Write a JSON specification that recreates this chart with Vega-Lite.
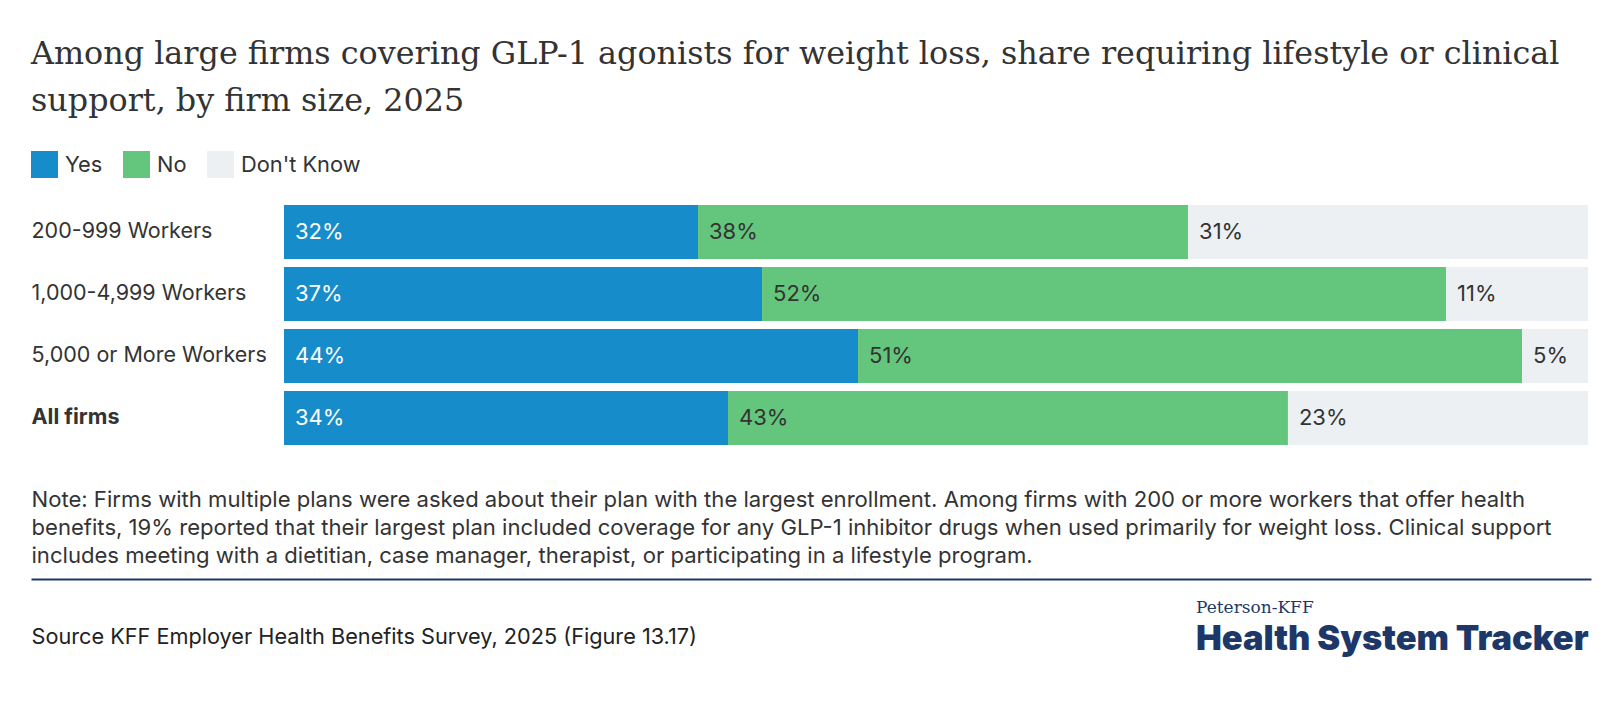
{
  "$schema": "https://vega.github.io/schema/vega-lite/v6.json",
  "background": "white",
  "padding": {"left": 31, "top": 39, "right": 29, "bottom": 40},
  "config": {"view": {"stroke": null}, "font": "Inter", "axis": {"grid": false}},
  "title": {
    "text": ["Among large firms covering GLP-1 agonists for weight loss, share requiring lifestyle or clinical", "support, by firm size, 2025"],
    "anchor": "start",
    "frame": "bounds",
    "font": "DejaVu Serif",
    "fontSize": 31.8,
    "fontWeight": "normal",
    "color": "#333333",
    "lineHeight": 47,
    "offset": 33
  },
  "data": {
    "values": [
      {"size": "200-999 Workers", "response": "Yes", "value": 0.3175},
      {"size": "200-999 Workers", "response": "No", "value": 0.3758},
      {"size": "200-999 Workers", "response": "Don't Know", "value": 0.3067},
      {"size": "1,000-4,999 Workers", "response": "Yes", "value": 0.3666},
      {"size": "1,000-4,999 Workers", "response": "No", "value": 0.5245},
      {"size": "1,000-4,999 Workers", "response": "Don't Know", "value": 0.1089},
      {"size": "5,000 or More Workers", "response": "Yes", "value": 0.4402},
      {"size": "5,000 or More Workers", "response": "No", "value": 0.5092},
      {"size": "5,000 or More Workers", "response": "Don't Know", "value": 0.0506},
      {"size": "All firms", "response": "Yes", "value": 0.3405},
      {"size": "All firms", "response": "No", "value": 0.4294},
      {"size": "All firms", "response": "Don't Know", "value": 0.2301}
    ]
  },
  "spacing": 12,
  "resolve": {"scale": {"x": "independent"}, "axis": {"x": "independent"}},
  "vconcat": [
    {
      "width": 1557,
      "height": 240,
      "transform": [
        {"stack": "value", "groupby": ["size"], "sort": [{"field": "response", "order": "descending"}], "as": ["x0", "x1"]}
      ],
      "encoding": {
        "y": {
          "field": "size",
          "type": "nominal",
          "sort": ["200-999 Workers", "1,000-4,999 Workers", "5,000 or More Workers", "All firms"],
          "scale": {"paddingInner": 0.129, "paddingOuter": 0},
          "axis": {
            "title": null,
            "ticks": false,
            "domain": false,
            "labelPadding": 0,
            "labelAlign": "left",
            "labelFontSize": 21.5,
            "labelFont": "Inter",
            "labelColor": "#333333",
            "labelLimit": 400,
            "labelFontWeight": {"condition": {"test": "datum.value === 'All firms'", "value": "bold"}, "value": "normal"}
          }
        },
        "x": {
          "field": "x0",
          "type": "quantitative",
          "scale": {"domain": [0, 1], "nice": false, "range": [253, 1557]},
          "axis": {
            "labels": false,
            "ticks": false,
            "domain": false,
            "grid": false,
            "title": [
              "Note: Firms with multiple plans were asked about their plan with the largest enrollment. Among firms with 200 or more workers that offer health",
              "benefits, 19% reported that their largest plan included coverage for any GLP-1 inhibitor drugs when used primarily for weight loss. Clinical support",
              "includes meeting with a dietitian, case manager, therapist, or participating in a lifestyle program."
            ],
            "titleX": 0,
            "titleY": 61,
            "titleAnchor": null,
            "titleAlign": "left",
            "titleBaseline": "alphabetic",
            "titleFont": "Inter",
            "titleFontSize": 22.1,
            "titleFontWeight": "normal",
            "titleColor": "#333333",
            "titleLineHeight": 28
          }
        }
      },
      "layer": [
        {
          "mark": {"type": "bar"},
          "encoding": {
            "x2": {"field": "x1"},
            "color": {
              "field": "response",
              "type": "nominal",
              "scale": {"domain": ["Yes", "No", "Don't Know"], "range": ["#178ccb", "#64c67d", "#ecf0f2"]},
              "legend": {
                "orient": "none",
                "legendX": 0,
                "legendY": -54,
                "direction": "horizontal",
                "title": null,
                "symbolType": "square",
                "symbolSize": 729,
                "symbolStrokeWidth": 0,
                "symbolOpacity": 1,
                "labelFont": "Inter",
                "labelFontSize": 21.8,
                "labelColor": "#333333",
                "labelOffset": 7,
                "columnPadding": 20
              }
            }
          }
        },
        {
          "mark": {"type": "text", "align": "left", "baseline": "middle", "dx": 11, "fontSize": 22, "font": "Inter"},
          "encoding": {
            "text": {"field": "value", "type": "quantitative", "format": ".0%"},
            "color": {"condition": {"test": "datum.response === 'Yes'", "value": "#ffffff"}, "value": "#333333"}
          }
        }
      ]
    },
    {
      "width": 1560,
      "height": 40,
      "mark": {"type": "tick", "opacity": 0},
      "encoding": {
        "x": {
          "field": "value",
          "type": "quantitative",
          "scale": {"domain": [0, 1], "nice": false},
          "axis": {
            "orient": "top",
            "domain": true,
            "domainColor": "#1d3868",
            "domainWidth": 2,
            "labels": false,
            "ticks": false,
            "grid": false,
            "title": "Source KFF Employer Health Benefits Survey, 2025 (Figure 13.17)",
            "titleX": 0,
            "titleY": 64,
            "titleAnchor": null,
            "titleAlign": "left",
            "titleBaseline": "alphabetic",
            "titleFont": "Inter",
            "titleFontSize": 21.7,
            "titleFontWeight": "normal",
            "titleColor": "#222222"
          }
        }
      },
      "title": {
        "text": "Peterson-KFF",
        "subtitle": "Health System Tracker",
        "orient": "bottom",
        "anchor": "start",
        "dx": 1165,
        "font": "DejaVu Serif",
        "fontSize": 17,
        "fontWeight": "normal",
        "color": "#1d3868",
        "subtitleFont": "Inter",
        "subtitleFontSize": 34.4,
        "subtitleFontWeight": 900,
        "subtitleColor": "#1d3868",
        "subtitlePadding": 6,
        "offset": -48
      }
    }
  ]
}
